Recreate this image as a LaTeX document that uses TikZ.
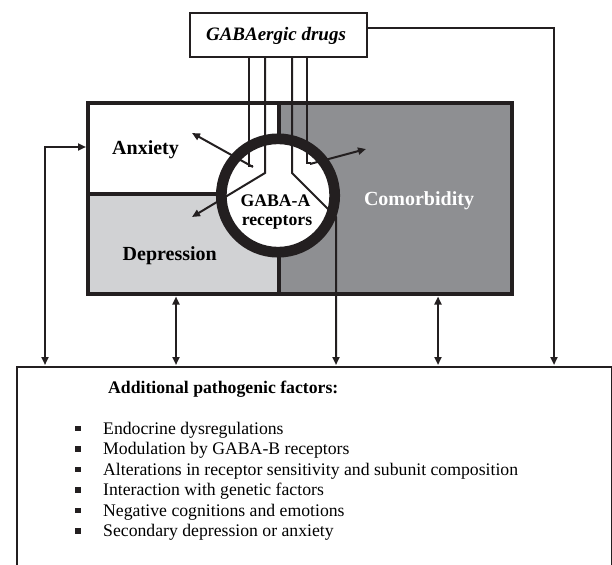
\documentclass[tikz,border=0pt]{standalone}
\usepackage{fontspec}
\setmainfont{Liberation Serif}
\usetikzlibrary{arrows.meta}
\definecolor{ink}{HTML}{231F20}
\definecolor{depgrey}{HTML}{D1D2D4}
\definecolor{comgrey}{HTML}{8E8F92}
\begin{document}
\begin{tikzpicture}[x=1pt,y=-1pt,
  thickln/.style={draw=ink,line width=4.5pt},
  thinln/.style={draw=ink,line width=2pt},
  tip/.style={-{Triangle[length=8pt,width=7pt]}},
  dtip/.style={{Triangle[length=8pt,width=7pt]}-{Triangle[length=8pt,width=7pt]}},
  lbl/.style={font=\fontsize{20}{22}\selectfont\bfseries, inner sep=0pt},
  rlbl/.style={font=\fontsize{17.7}{19}\selectfont\bfseries, inner sep=0pt},
  item/.style={font=\fontsize{17.7}{19}\selectfont, inner sep=0pt, anchor=base west},
  bullet/.style={fill=ink, minimum size=5.5pt, inner sep=0pt, draw=none},
]
\useasboundingbox (0,0) rectangle (612,564);

% regions
\fill[comgrey] (278,103) rectangle (512,294);
\fill[depgrey] (88,194) rectangle (278,294);
\node[thickln, minimum width=424pt, minimum height=191pt, inner sep=0pt] (main) at (300,198.5) {};
\draw[thickln] (88,194) -- (230,194);
\draw[thickln] (279,103) -- (279,294);

% receptor interior
\fill[white] (278,195.5) circle (57);

% drug box
\node[thinln, minimum width=177pt, minimum height=44pt, inner sep=0pt] (drugs) at (278.5,35) {};
\node[font=\fontsize{19}{21}\selectfont\bfseries\itshape, inner sep=0pt, anchor=base] (drugsl) at (276,40.7) {GABAergic drugs};

% bottom box
\node[thinln, anchor=north west, minimum width=595pt, minimum height=240pt, inner sep=0pt] (factors) at (16,366) {};

% channel lines
\coordinate (lo1) at (249,58);
\coordinate (li1) at (265,58);
\coordinate (ri1) at (292,58);
\coordinate (ro1) at (307,58);
\coordinate (anxt) at (192,133);
\coordinate (dept) at (192,217);
\coordinate (comt) at (366,149);
\draw[thinln] (lo1) -- (249,166) -- (253,166);
\draw[thinln, tip] (253,167) -- (anxt);
\draw[thinln, tip] (li1) -- (265,173) -- (dept);
\draw[thinln, tip] (ri1) -- (292,173) -- (336,217) -- (336,365);
\draw[thinln] (ro1) -- (307,163) -- (311,163);
\draw[thinln, tip] (310,164) -- (comt);

% receptor ring
\node[circle, draw=ink, line width=10.7pt, minimum size=113.4pt, inner sep=0pt] (rec) at (278,195.5) {};
\node[rlbl, anchor=base] (recl1) at (275.5,206) {GABA-A};
\node[rlbl, anchor=base] (recl2) at (277,225) {receptors};

% region labels
\node[lbl, anchor=base west] (anx) at (112,155) {Anxiety};
\node[lbl, anchor=base west] (dep) at (122.5,260) {Depression};
\node[lbl, anchor=base, text=white] (com) at (419,205) {Comorbidity};

% feedback connectors
\draw[thinln, dtip] (86,147) -- (45,147) -- (45,365);
\draw[thinln, dtip] (176,296.5) -- (176,365);
\draw[thinln, dtip] (438,296.5) -- (438,365);
\draw[thinln, tip] (drugs.east |- 0,28) -- (554,28) -- (554,365);

% factors text
\node[font=\fontsize{17.7}{19}\selectfont\bfseries, inner sep=0pt, anchor=base west] (fh) at (108,393) {Additional pathogenic factors:};
\foreach \y/\t [count=\i] in {434/Endocrine dysregulations,
  454.5/Modulation by GABA-B receptors,
  475/Alterations in receptor sensitivity and subunit composition,
  495.5/Interaction with genetic factors,
  516/Negative cognitions and emotions,
  536.5/Secondary depression or anxiety}{
  \node[bullet] (b\i) at (78,\y-5.5) {};
  \node[item] (it\i) at (103,\y) {\t};
}
\end{tikzpicture}
\end{document}
